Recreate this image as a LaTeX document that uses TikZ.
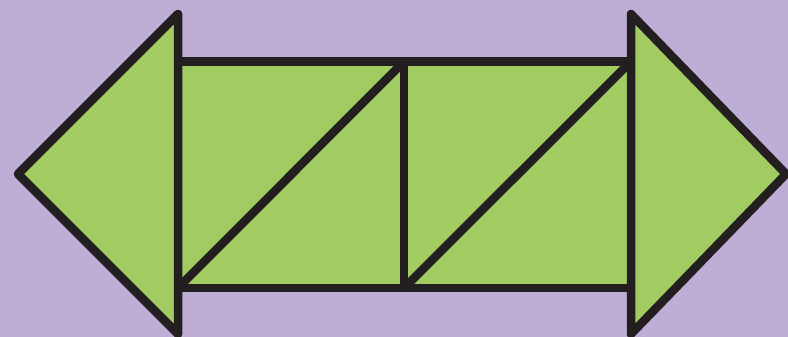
\documentclass[tikz,border=0pt]{standalone}
\definecolor{bgpurple}{HTML}{BEADD4}
\definecolor{leaf}{HTML}{A2CC62}
\definecolor{ink}{HTML}{231F20}
\begin{document}
\begin{tikzpicture}[x=1pt,y=-1pt,
  piece/.style={fill=leaf,draw=ink,line width=8.5pt,line join=round}]
\fill[bgpurple] (0,0) rectangle (788,337);
\useasboundingbox (0,0) rectangle (788,337);
% rectangle body
\draw[piece] (178,61.5) rectangle (631,288);
% left arrowhead
\draw[piece] (178,14) -- (18,174) -- (178,334) -- cycle;
% right arrowhead
\draw[piece] (631,14) -- (786,174) -- (631,334) -- cycle;
% inner lines
\draw[ink,line width=8.5pt] (404,61.5) -- (404,288);
\draw[ink,line width=8.5pt] (178,288) -- (404,61.5);
\draw[ink,line width=8.5pt] (404,288) -- (631,61.5);
\end{tikzpicture}
\end{document}
